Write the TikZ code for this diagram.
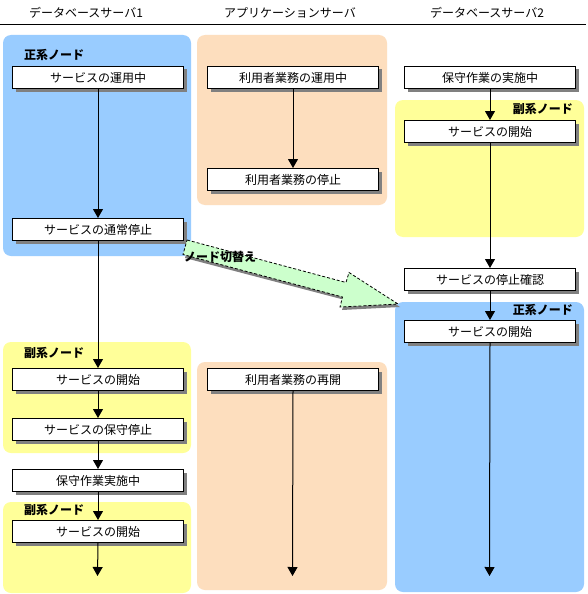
\documentclass[tikz,border=0pt]{standalone}
\usepackage{fontspec}
\setmainfont{Noto Sans CJK JP}
\usetikzlibrary{arrows.meta,shadows}
\definecolor{nodeblue}{RGB}{153,204,255}
\definecolor{nodeyellow}{RGB}{255,255,153}
\definecolor{apporange}{RGB}{253,222,190}
\definecolor{switchgreen}{RGB}{204,255,204}
\definecolor{shadowgray}{RGB}{128,128,128}
\tikzset{
  stepbox/.style={draw=black, line width=1pt, fill=white, anchor=north west,
    minimum width=171pt, minimum height=22pt, inner sep=0pt,
    font=\fontsize{12}{14}\selectfont,
    drop shadow={shadow xshift=3pt, shadow yshift=-3pt, fill=shadowgray, opacity=1}},
  flow/.style={line width=1pt, -{Triangle[width=10pt,length=9pt]}},
  region/.style={rounded corners=8pt},
  rolelabel/.style={font=\fontsize{12}{14}\selectfont\bfseries, inner sep=0pt},
  header/.style={font=\fontsize{12}{14}\selectfont, inner sep=0pt}
}
\begin{document}
\begin{tikzpicture}[x=1pt,y=-1pt]
\useasboundingbox (0,0) rectangle (588,594);
\fill[white] (0,0) rectangle (588,594);
% headers
\node[header] (h1) at (86,13) {データベースサーバ1};
\node[header] (h2) at (290,13) {アプリケーションサーバ};
\node[header] (h3) at (487,13) {データベースサーバ2};
\draw[line width=1pt] (0,25) -- (586,25);
% regions
\fill[nodeblue,region] (3,35) rectangle (191,256);
\fill[nodeyellow,region] (3,342) rectangle (191,453);
\fill[nodeyellow,region] (3,502) rectangle (191,593);
\fill[apporange,region] (197,35) rectangle (387,205);
\fill[apporange,region] (197,362) rectangle (387,590);
\fill[nodeyellow,region] (395,100) rectangle (584,237);
\fill[nodeblue,region] (395,302) rectangle (584,592);
% role labels
\node[rolelabel,anchor=west] (r1) at (24,55) {正系ノード};
\node[rolelabel,anchor=west] (r2) at (24,353) {副系ノード};
\node[rolelabel,anchor=west] (r3) at (24,510) {副系ノード};
\node[rolelabel,anchor=east] (r4) at (573,109) {副系ノード};
\node[rolelabel,anchor=east] (r5) at (573,310) {正系ノード};
% column 1 boxes
\node[stepbox] (a1) at (12,66) {サービスの運用中};
\node[stepbox] (a2) at (12,218) {サービスの通常停止};
\node[stepbox] (a3) at (12,368) {サービスの開始};
\node[stepbox] (a4) at (12,418) {サービスの保守停止};
\node[stepbox] (a5) at (12,469) {保守作業実施中};
\node[stepbox] (a6) at (12,520) {サービスの開始};
\coordinate (aend) at (97.5,576);
% column 2 boxes
\node[stepbox] (b1) at (207,66) {利用者業務の運用中};
\node[stepbox] (b2) at (207,168) {利用者業務の停止};
\node[stepbox] (b3) at (207,368) {利用者業務の再開};
\coordinate (bend) at (292.5,576);
% column 3 boxes
\node[stepbox] (c1) at (404,66) {保守作業の実施中};
\node[stepbox] (c2) at (404,120) {サービスの開始};
\node[stepbox] (c3) at (404,268) {サービスの停止確認};
\node[stepbox] (c4) at (404,320) {サービスの開始};
\coordinate (cend) at (489.5,576);
% connectors
\draw[flow] (a1.south) -- (a2.north);
\draw[flow] (a2.south) -- (a3.north);
\draw[flow] (a3.south) -- (a4.north);
\draw[flow] (a4.south) -- (a5.north);
\draw[flow] (a5.south) -- (a6.north);
\draw[flow] (a6.south) -- (aend);
\draw[flow] (b1.south) -- (b2.north);
\draw[flow] (b3.south) -- (bend);
\draw[flow] (c1.south) -- (c2.north);
\draw[flow] (c2.south) -- (c3.north);
\draw[flow] (c3.south) -- (c4.north);
\draw[flow] (c4.south) -- (cend);
% switchover block arrow
\fill[shadowgray] (189,242) -- (348,285) -- (352,276) -- (400,307) -- (342,310) -- (345,300) -- (185,258) -- cycle;
\filldraw[fill=switchgreen, draw=black, densely dashed, line width=0.8pt]
  (187,240) -- (346,282.5) -- (349,272.5) -- (398,304) -- (340,307) -- (342.5,297) -- (183,254.5) -- cycle;
\node[rolelabel,anchor=west] (sw) at (184,257) {ノード切替え};
\end{tikzpicture}
\end{document}
